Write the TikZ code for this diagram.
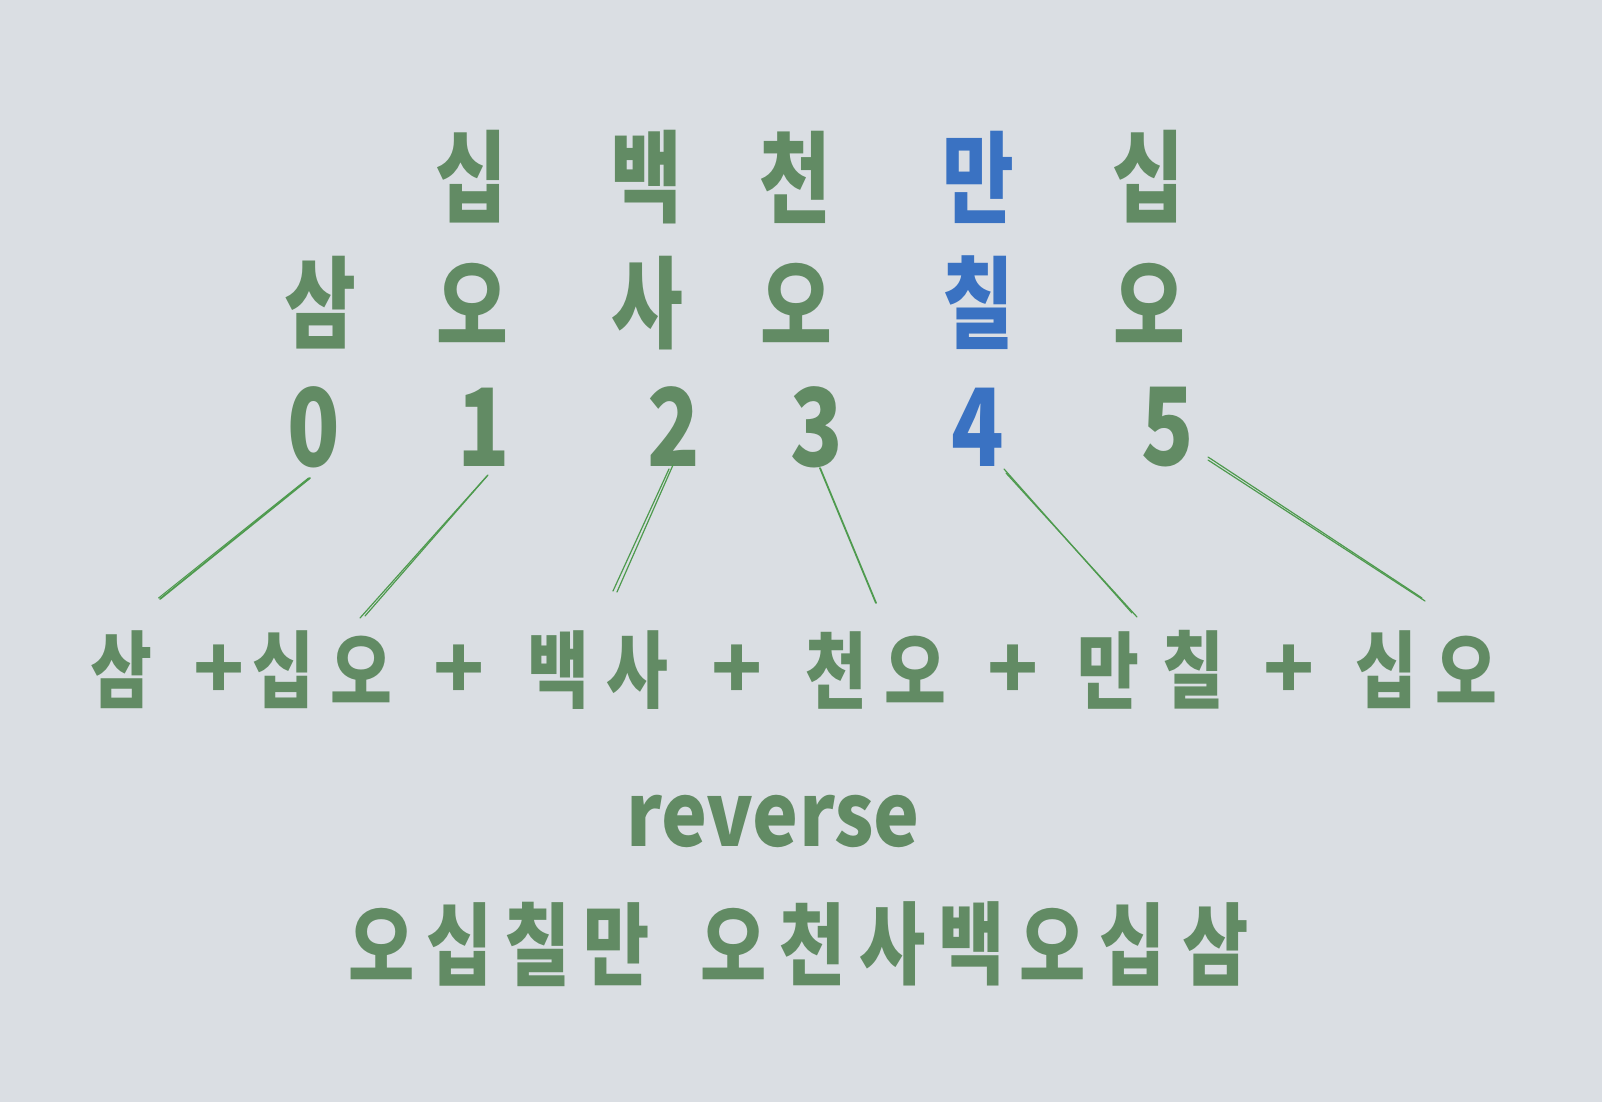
\documentclass[tikz,border=0pt]{standalone}
\usepackage{fontspec}
\usepackage{graphicx}
\newfontfamily\kr{Noto Sans CJK KR}
\definecolor{bgc}{HTML}{DADEE3}
\definecolor{tg}{HTML}{628B64}
\definecolor{tb}{HTML}{3A72C2}
\definecolor{lg}{HTML}{4E9A4E}
\newcommand{\kcA}[1]{\scalebox{0.78}[1]{#1}}
\newcommand{\kcB}[1]{\scalebox{0.80}[1]{#1}}
\begin{document}
\begin{tikzpicture}[x=1pt,y=-1pt,
  big/.style={inner sep=0pt, text=tg, font=\kr\bfseries\fontsize{100}{100}\selectfont},
  mid/.style={inner sep=0pt, text=tg, font=\kr\bfseries\fontsize{84}{84}\selectfont},
  row6/.style={inner sep=0pt, text=tg, font=\kr\bfseries\fontsize{90}{90}\selectfont},
  dig/.style={inner sep=0pt, text=tg, font=\kr\bfseries\fontsize{108}{108}\selectfont},
  blue/.style={text=tb},
  conn/.style={draw=lg, line width=1.8pt, line cap=round}
]
\useasboundingbox (0,0) rectangle (1602,1102);
\fill[bgc] (0,0) rectangle (1602,1102);

% row 1
\node[big] (a1) at (471,177) {\kcA{십}};
\node[big] (a2) at (646,177) {\kcA{백}};
\node[big] (a3) at (795,177) {\kcA{천}};
\node[big,blue] (a4) at (978,177) {\kcA{만}};
\node[big] (a5) at (1148,177) {\kcA{십}};
% row 2
\node[big] (b0) at (320,303) {\kcA{삼}};
\node[big] (b1) at (472,303) {\kcA{오}};
\node[big] (b2) at (647,303) {\kcA{사}};
\node[big] (b3) at (796,303) {\kcA{오}};
\node[big,blue] (b4) at (978,303) {\kcA{칠}};
\node[big] (b5) at (1149,303) {\kcA{오}};
% row 3 digits
\node[dig] (d0) at (314,427) {\kcB{0}};
\node[dig] (d1) at (484,427) {\kcB{1}};
\node[dig] (d2) at (674,427) {\kcB{2}};
\node[dig] (d3) at (817,427) {\kcB{3}};
\node[dig,blue] (d4) at (978,427) {\kcB{4}};
\node[dig] (d5) at (1168,427) {\kcB{5}};

% row 4
\node[mid] (g0) at (121,670) {\kcB{삼}};
\node[mid] (p1) at (219,672) {+};
\node[mid] (g1a) at (283,670) {\kcB{십}};
\node[mid] (g1b) at (361,670) {\kcB{오}};
\node[mid] (p2) at (459,672) {+};
\node[mid] (g2a) at (558,670) {\kcB{백}};
\node[mid] (g2b) at (637,670) {\kcB{사}};
\node[mid] (p3) at (737,672) {+};
\node[mid] (g3a) at (836,670) {\kcB{천}};
\node[mid] (g3b) at (915,670) {\kcB{오}};
\node[mid] (p4) at (1013,672) {+};
\node[mid] (g4a) at (1108,670) {\kcB{만}};
\node[mid] (g4b) at (1193,670) {\kcB{칠}};
\node[mid] (p5) at (1289,672) {+};
\node[mid] (g5a) at (1386,670) {\kcB{십}};
\node[mid] (g5b) at (1466,670) {\kcB{오}};

% connectors
\coordinate (s0) at (310,478); \coordinate (e0) at (160,599);
\draw[conn] (s0) -- (e0);
\draw[conn, line width=1pt] ([xshift=-1.5pt]s0) -- ([xshift=-1.5pt,yshift=1pt]e0);
\coordinate (s1) at (488,475); \coordinate (e1) at (365,616);
\draw[conn, line width=1.2pt] (s1) -- (e1);
\draw[conn, line width=1.2pt] ([xshift=-1pt,yshift=-1pt]s1) -- ([xshift=-5pt,yshift=-2pt]e1);
\coordinate (s2) at (669,469); \coordinate (e2) at (613,591);
\draw[conn, line width=1.2pt] (s2) -- (e2);
\draw[conn, line width=1.2pt] ([xshift=4pt,yshift=4pt]s2) -- ([xshift=4pt,yshift=-1pt]e2);
\coordinate (s3) at (820,468); \coordinate (e3) at (876,603);
\draw[conn] (s3) -- (e3);
\coordinate (s4) at (1006,473); \coordinate (e4) at (1137,617);
\draw[conn, line width=1.2pt] (s4) -- (e4);
\draw[conn, line width=1.2pt] ([xshift=-2pt,yshift=4pt]s4) -- ([xshift=-5pt,yshift=4pt]e4);
\coordinate (s5) at (1208,460); \coordinate (e5) at (1425,601);
\draw[conn, line width=1.2pt] (s5) -- (e5);
\draw[conn, line width=1.2pt] ([yshift=3pt]s5) -- ([xshift=-3pt,yshift=3pt]e5);

% reverse
\node[inner sep=0pt, text=tg, font=\kr\bfseries\fontsize{88}{88}\selectfont, anchor=base] (rev) at (773,846) {\scalebox{0.88}[1]{reverse}};

% row 6
\node[row6] (r1) at (382,944) {\kcB{오}};
\node[row6] (r2) at (460,944) {\kcB{십}};
\node[row6] (r3) at (538,944) {\kcB{칠}};
\node[row6] (r4) at (617,944) {\kcB{만}};
\node[row6] (r5) at (734,944) {\kcB{오}};
\node[row6] (r6) at (813,944) {\kcB{천}};
\node[row6] (r7) at (893,944) {\kcB{사}};
\node[row6] (r8) at (972,944) {\kcB{백}};
\node[row6] (r9) at (1053,944) {\kcB{오}};
\node[row6] (r10) at (1133,944) {\kcB{십}};
\node[row6] (r11) at (1216,944) {\kcB{삼}};
\end{tikzpicture}
\end{document}
